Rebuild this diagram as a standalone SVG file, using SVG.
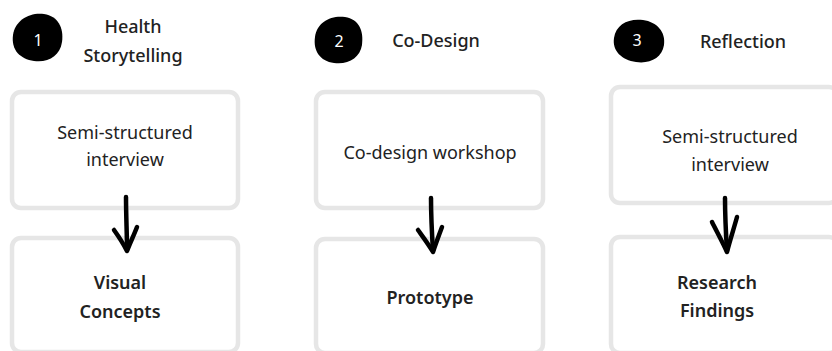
<svg xmlns="http://www.w3.org/2000/svg" width="832" height="351" viewBox="0 0 832 351">
<style>
.box{fill:#fff;stroke:#e6e6e6;stroke-width:4.5}
.t{font-family:"Noto Sans","Open Sans",sans-serif;font-size:18px;fill:#222;text-anchor:middle}
.h{font-weight:500}
.b{font-weight:600}
.num{font-family:"Noto Sans",sans-serif;font-size:16px;fill:#fff;text-anchor:middle}
.blob{fill:#000}
.arr{fill:none;stroke:#000;stroke-width:4.5;stroke-linecap:round;stroke-linejoin:round}
</style>
<rect width="832" height="351" fill="#fff"/>
<g id="step1">
<path class="blob" d="M13,35 C15,20 30,12 44,14 C58,16 64,28 62,42 C60,56 48,63 34,61 C20,59 11,50 13,35 Z"/>
<text class="num" x="38" y="46">1</text>
<text class="t h" x="133" y="33">Health</text>
<text class="t h" x="133" y="62">Storytelling</text>
</g>
<g id="step2">
<path class="blob" d="M315,37 C317,22 331,15 345,17 C359,19 364,31 362,45 C360,58 348,65 334,63 C320,61 313,51 315,37 Z"/>
<text class="num" x="339" y="47">2</text>
<text class="t h" x="436" y="47">Co-Design</text>
</g>
<g id="step3">
<path class="blob" d="M614,38 C616,24 629,18 643,20 C657,22 666,32 664,45 C662,58 650,64 636,62 C622,60 612,51 614,38 Z"/>
<text class="num" x="637" y="46">3</text>
<text class="t h" x="743" y="48">Reflection</text>
</g>
<g id="n1a"><rect class="box" x="12" y="92" width="226" height="116" rx="9"/>
<text class="t" x="125" y="139">Semi-structured</text><text class="t" x="125" y="166">interview</text></g>
<g id="n1b"><rect class="box" x="12" y="238" width="226" height="114" rx="9"/>
<text class="t b" x="120" y="289">Visual</text><text class="t b" x="120" y="318">Concepts</text></g>
<g id="n2a"><rect class="box" x="316" y="92" width="227" height="116" rx="9"/>
<text class="t" x="430" y="159">Co-design workshop</text></g>
<g id="n2b"><rect class="box" x="316" y="239" width="227" height="114" rx="9"/>
<text class="t b" x="430" y="304">Prototype</text></g>
<g id="n3a"><rect class="box" x="611" y="87" width="227" height="116" rx="9"/>
<text class="t" x="730" y="143">Semi-structured</text><text class="t" x="730" y="171">interview</text></g>
<g id="n3b"><rect class="box" x="611" y="237" width="227" height="116" rx="9"/>
<text class="t b" x="717" y="289">Research</text><text class="t b" x="717" y="317">Findings</text></g>
<g id="connectors">
<path class="arr" d="M126,197 C126,215 127,235 127,250"/>
<path class="arr" d="M114,230 C119,237 124,245 127,251 C130,243 134,235 137,227"/>
<path class="arr" d="M431,198 C431,215 432,235 433,251"/>
<path class="arr" d="M418,230 C423,237 429,245 433,252 C436,243 439,235 442,227"/>
<path class="arr" d="M725,198 C725,215 726,235 727,251"/>
<path class="arr" d="M712,222 C717,232 723,243 727,252 C730,240 734,228 737,217"/>
</g>
</svg>
